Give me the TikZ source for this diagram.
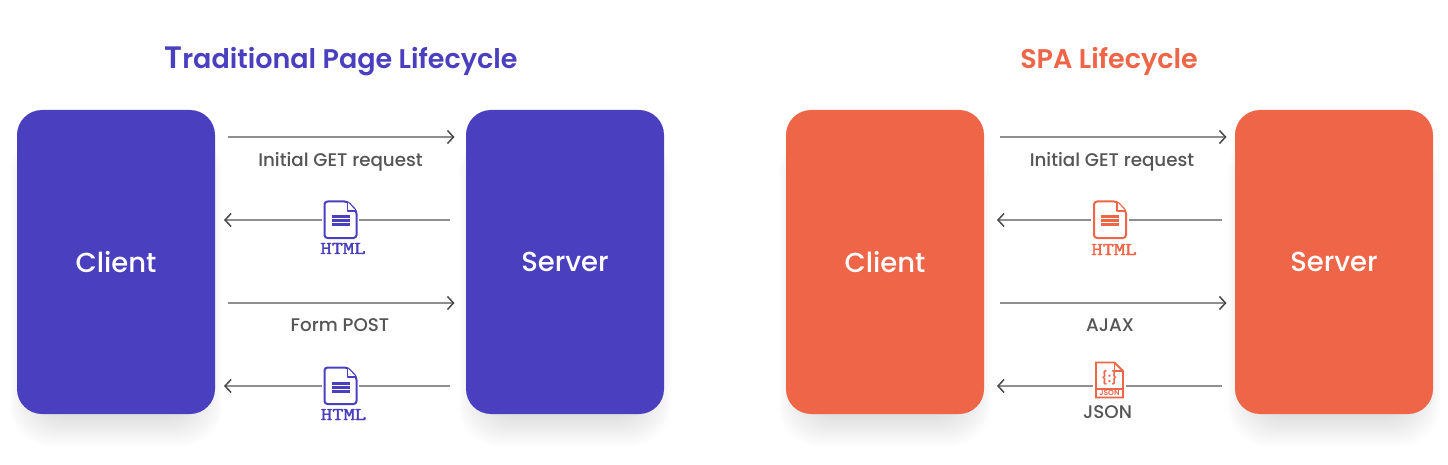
\documentclass[tikz,border=0pt]{standalone}
\usepackage{fontspec}
\setmainfont{Poppins Medium}[BoldFont=Poppins SemiBold]
\newfontfamily\slabfont{Latin Modern Mono}[FakeBold=2.2,FakeStretch=1.22]
\usetikzlibrary{arrows.meta}
\definecolor{bluec}{HTML}{4A40BF}
\definecolor{redc}{HTML}{EE6548}
\definecolor{txt}{HTML}{555555}
\definecolor{linec}{HTML}{8E8E8E}
\definecolor{tipc}{HTML}{4A4A4A}
\tikzset{
  panel/.style={fill=#1,rounded corners=25pt,minimum width=198pt,minimum height=304pt,inner sep=0pt,text=white,font=\fontsize{27.5}{30}\selectfont},
  lbl/.style={text=txt,inner sep=0pt,font=\fontsize{18.3}{22}\selectfont},
  htmllbl/.style={text=#1,inner sep=0pt,font=\slabfont\fontsize{18}{18}\selectfont},
  titlelbl/.style={text=#1,inner sep=0pt,font=\bfseries\fontsize{27}{30}\selectfont},
  iconbox/.style={minimum width=#1,minimum height=38pt,inner sep=0pt},
  flow/.style={draw=linec,line width=1.3pt,-{Straight Barb[color=tipc,length=6pt,width=13pt,line width=1.5pt]}},
  flowplain/.style={draw=linec,line width=1.3pt},
  docicon/.pic={
    \draw[#1,line width=2pt,line join=round,rounded corners=3pt,fill=white] (-16,-18.5) -- (7,-18.5) -- (16,-9) -- (16,18) -- (-16,18) -- cycle;
    \draw[#1,line width=1.6pt,line join=round,fill=white] (7,-18) -- (7,-9) -- (15.5,-9);
    \foreach \yy in {-3,1,5}{\draw[#1,line width=3pt] (-9,\yy) -- (9,\yy);}
  },
  jsonicon/.pic={
    \draw[#1,line width=1.8pt,line join=miter,fill=white] (-13.5,-17.5) -- (5,-17.5) -- (13.5,-9) -- (13.5,17.5) -- (-13.5,17.5) -- cycle;
    \draw[#1,line width=1.3pt] (5,-17.5) -- (5,-9) -- (13.5,-9);
    \draw[#1,line width=1.4pt] (-13.5,9) -- (13.5,9);
    \node[text=#1,inner sep=0pt,font=\bfseries\fontsize{13}{13}\selectfont] at (0,-2.5) {\{:\}};
    \node[text=#1,inner sep=0pt,font=\bfseries\fontsize{7.5}{7.5}\selectfont] at (0,13.3) {JSON};
  }
}
\begin{document}
\begin{tikzpicture}[x=1pt,y=-1pt]
\useasboundingbox (0,0) rectangle (1448,465);
\fill[white] (0,0) rectangle (1448,465);
% soft shadows
\foreach \xa in {17,466,786,1235}{
  \foreach \d in {-22,-20,...,18}{
    \fill[black,opacity=0.0085,rounded corners=40pt]
      ({\xa+6-\d*0.75},{150-\d}) rectangle ({\xa+192+\d*0.75},{428+\d});
  }
}
% panels
\node[panel=bluec] (cl) at (116,262) {Client};
\node[panel=bluec] (sl) at (565,262) {Server};
\node[panel=redc] (cr) at (885,262) {Client};
\node[panel=redc] (sr) at (1334,262) {Server};
% titles
\node[titlelbl=bluec,anchor=base] (tl) at (341,69) {{\fontsize{31}{30}\selectfont T}raditional Page Lifecycle};
\node[titlelbl=redc,anchor=base] (tr) at (1109,69) {SPA Lifecycle};
% left coordinates
\coordinate (a1) at (228,137); \coordinate (a2) at (454.5,137);
\coordinate (b1) at (450,220); \coordinate (b2) at (224,220);
\coordinate (c1) at (228,303); \coordinate (c2) at (454.5,303);
\coordinate (d1) at (450,386); \coordinate (d2) at (224,386);
% right coordinates
\coordinate (e1) at (1000,137); \coordinate (e2) at (1226.5,137);
\coordinate (f1) at (1222,220); \coordinate (f2) at (997,220);
\coordinate (g1) at (1000,303); \coordinate (g2) at (1226.5,303);
\coordinate (h1) at (1222,386); \coordinate (h2) at (997,386);
% icons
\node[iconbox=37pt] (i1) at (340.5,220) {};
\node[iconbox=37pt] (i2) at (340.5,386) {};
\node[iconbox=37pt] (i3) at (1110,220) {};
\node[iconbox=33pt] (i4) at (1109.5,386) {};
\pic at (340.5,220) {docicon=bluec};
\pic at (340.5,386) {docicon=bluec};
\pic at (1110,220) {docicon=redc};
\pic at (1109.5,380) {jsonicon=redc};
% connectors
\draw[flow] (a1) -- (a2);
\draw[flowplain] (b1) -- (i1);
\draw[flow] (i1) -- (b2);
\draw[flow] (c1) -- (c2);
\draw[flowplain] (d1) -- (i2);
\draw[flow] (i2) -- (d2);
\draw[flow] (e1) -- (e2);
\draw[flowplain] (f1) -- (i3);
\draw[flow] (i3) -- (f2);
\draw[flow] (g1) -- (g2);
\draw[flowplain] (h1) -- (i4);
\draw[flow] (i4) -- (h2);
% labels
\node[lbl,anchor=base] (l1) at (340.5,167) {Initial GET request};
\node[htmllbl=bluec,anchor=base] (l2) at (343,254) {HTML};
\node[lbl,anchor=base] (l3) at (340,331) {Form POST};
\node[htmllbl=bluec,anchor=base] (l4) at (343.5,420) {HTML};
\node[lbl,anchor=base] (l5) at (1112,167) {Initial GET request};
\node[htmllbl=redc,anchor=base] (l6) at (1114,255) {HTML};
\node[lbl,anchor=base] (l7) at (1110,331) {AJAX};
\node[lbl,anchor=base] (l8) at (1107.5,418) {JSON};
\end{tikzpicture}
\end{document}
